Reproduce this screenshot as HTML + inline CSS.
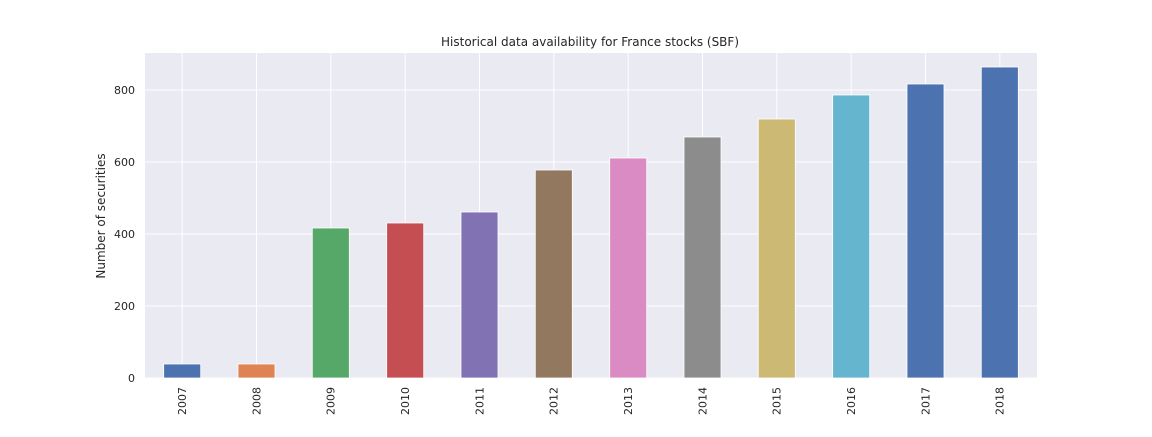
<!DOCTYPE html>
<html><head><meta charset="utf-8"><style>
html,body{margin:0;padding:0;background:#fff;}
</style></head><body>
<svg width="1152" height="432" xmlns="http://www.w3.org/2000/svg" font-family="'DejaVu Sans','Liberation Sans',sans-serif">
<rect x="145" y="53" width="892" height="325" fill="#EAEAF2"/>
<g stroke="#fff" stroke-width="1">
<line x1="145" x2="1037" y1="378" y2="378"/>
<line x1="145" x2="1037" y1="306" y2="306"/>
<line x1="145" x2="1037" y1="234" y2="234"/>
<line x1="145" x2="1037" y1="162" y2="162"/>
<line x1="145" x2="1037" y1="90" y2="90"/>
<line x1="182.2" x2="182.2" y1="53" y2="378"/>
<line x1="256.5" x2="256.5" y1="53" y2="378"/>
<line x1="330.8" x2="330.8" y1="53" y2="378"/>
<line x1="405.2" x2="405.2" y1="53" y2="378"/>
<line x1="479.5" x2="479.5" y1="53" y2="378"/>
<line x1="553.8" x2="553.8" y1="53" y2="378"/>
<line x1="628.2" x2="628.2" y1="53" y2="378"/>
<line x1="702.5" x2="702.5" y1="53" y2="378"/>
<line x1="776.8" x2="776.8" y1="53" y2="378"/>
<line x1="851.2" x2="851.2" y1="53" y2="378"/>
<line x1="925.5" x2="925.5" y1="53" y2="378"/>
<line x1="999.8" x2="999.8" y1="53" y2="378"/>
</g>
<g stroke="#fff" stroke-width="0.8">
<rect x="163.7" y="364" width="37" height="14" fill="#4C72B0"/>
<rect x="238" y="364" width="37" height="14" fill="#DD8452"/>
<rect x="312.3" y="228" width="37" height="150" fill="#55A868"/>
<rect x="386.7" y="223" width="37" height="155" fill="#C44E52"/>
<rect x="461" y="212" width="37" height="166" fill="#8172B3"/>
<rect x="535.3" y="170" width="37" height="208" fill="#937860"/>
<rect x="609.7" y="158" width="37" height="220" fill="#DA8BC3"/>
<rect x="684" y="137" width="37" height="241" fill="#8C8C8C"/>
<rect x="758.3" y="119" width="37" height="259" fill="#CCB974"/>
<rect x="832.7" y="95" width="37" height="283" fill="#64B5CD"/>
<rect x="907" y="84" width="37" height="294" fill="#4C72B0"/>
<rect x="981.3" y="67" width="37" height="311" fill="#4C72B0"/>
</g>
<g font-size="11" fill="#262626" text-anchor="end">
<text x="135" y="382">0</text>
<text x="135" y="310">200</text>
<text x="135" y="238">400</text>
<text x="135" y="166">600</text>
<text x="135" y="94">800</text>
</g>
<g font-size="11" fill="#262626" text-anchor="end">
<text transform="translate(186,387) rotate(-90)">2007</text>
<text transform="translate(260.3,387) rotate(-90)">2008</text>
<text transform="translate(334.6,387) rotate(-90)">2009</text>
<text transform="translate(409,387) rotate(-90)">2010</text>
<text transform="translate(483.3,387) rotate(-90)">2011</text>
<text transform="translate(557.6,387) rotate(-90)">2012</text>
<text transform="translate(632,387) rotate(-90)">2013</text>
<text transform="translate(706.3,387) rotate(-90)">2014</text>
<text transform="translate(780.6,387) rotate(-90)">2015</text>
<text transform="translate(855,387) rotate(-90)">2016</text>
<text transform="translate(929.3,387) rotate(-90)">2017</text>
<text transform="translate(1003.6,387) rotate(-90)">2018</text>
</g>
<text x="590" y="46" font-size="12" fill="#262626" text-anchor="middle">Historical data availability for France stocks (SBF)</text>
<text transform="translate(105,216) rotate(-90)" font-size="12" fill="#262626" text-anchor="middle">Number of securities</text>
</svg>
</body></html>
